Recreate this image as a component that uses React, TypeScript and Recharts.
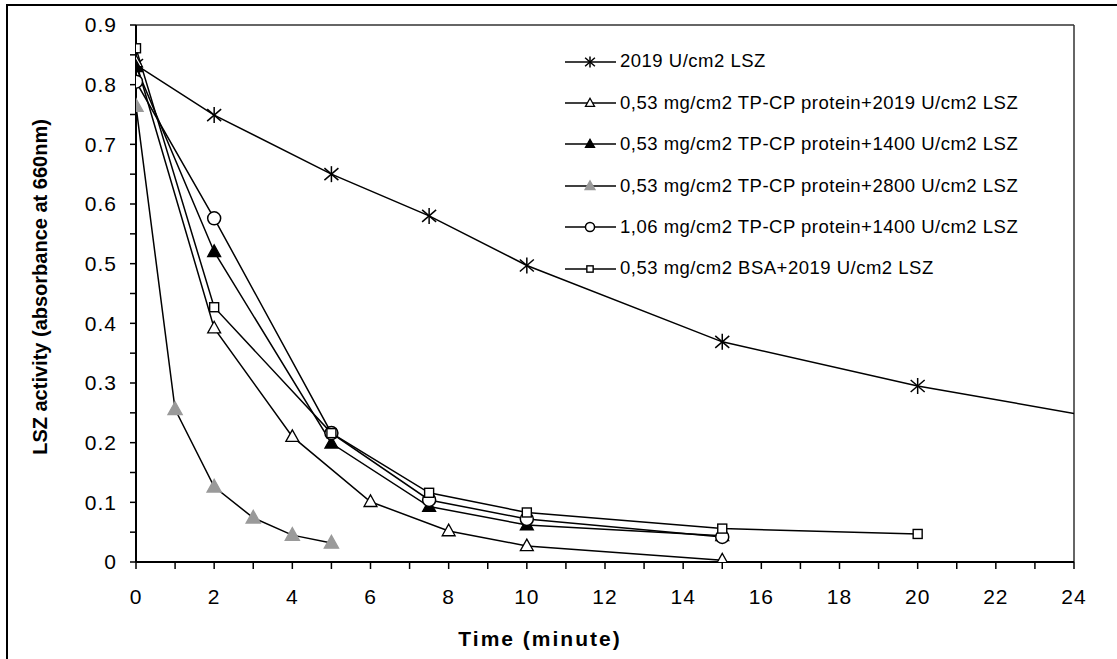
import { LineChart, Line, XAxis, YAxis, Legend, ReferenceLine, Label } from "recharts"

const FONT = "'Liberation Sans', Arial, Helvetica, sans-serif"

// time (minute) and absorbance at 660nm
const T_LSZ = [0, 2, 5, 7.5, 10, 15, 20, 30]
const V_LSZ = [0.833, 0.749, 0.65, 0.58, 0.497, 0.369, 0.295, 0.18]

const T_TP053_2019 = [0, 2, 4, 6, 8, 10, 15]
const V_TP053_2019 = [0.838, 0.392, 0.21, 0.101, 0.052, 0.027, 0.003]

const T_TP053_1400 = [0, 2, 5, 7.5, 10, 15]
const V_TP053_1400 = [0.83, 0.52, 0.199, 0.093, 0.062, 0.044]

const T_TP053_2800 = [0, 1, 2, 3, 4, 5]
const V_TP053_2800 = [0.764, 0.256, 0.126, 0.074, 0.045, 0.032]

const T_TP106_1400 = [0, 2, 5, 7.5, 10, 15]
const V_TP106_1400 = [0.805, 0.576, 0.216, 0.104, 0.072, 0.042]

const T_BSA = [0, 2, 5, 7.5, 10, 15, 20]
const V_BSA = [0.861, 0.427, 0.216, 0.116, 0.083, 0.056, 0.047]

const X_TICKS = [0, 1, 2, 3, 4, 5, 6, 7, 8, 9, 10, 11, 12, 13, 14, 15, 16, 17, 18, 19, 20, 21, 22, 23, 24]
const Y_TICKS = [0, 0.05, 0.1, 0.15, 0.2, 0.25, 0.3, 0.35, 0.4, 0.45, 0.5, 0.55, 0.6, 0.65, 0.7, 0.75, 0.8, 0.85, 0.9]

type Shape = "star" | "triOpen" | "triFill" | "triGray" | "circle" | "square"

const zip = (xs: number[], ys: number[]) => xs.map((x, i) => ({ x, y: ys[i] }))

const SERIES: { name: string; shape: Shape; data: { x: number; y: number }[] }[] = [
  { name: "2019 U/cm2 LSZ", shape: "star", data: zip(T_LSZ, V_LSZ) },
  { name: "0,53 mg/cm2 TP-CP protein+2019 U/cm2 LSZ", shape: "triOpen", data: zip(T_TP053_2019, V_TP053_2019) },
  { name: "0,53 mg/cm2 TP-CP protein+1400 U/cm2 LSZ", shape: "triFill", data: zip(T_TP053_1400, V_TP053_1400) },
  { name: "0,53 mg/cm2 TP-CP protein+2800 U/cm2 LSZ", shape: "triGray", data: zip(T_TP053_2800, V_TP053_2800) },
  { name: "1,06 mg/cm2 TP-CP protein+1400 U/cm2 LSZ", shape: "circle", data: zip(T_TP106_1400, V_TP106_1400) },
  { name: "0,53 mg/cm2 BSA+2019 U/cm2 LSZ", shape: "square", data: zip(T_BSA, V_BSA) },
]

function Marker({ shape, cx, cy, s = 1 }: { shape: Shape; cx: number; cy: number; s?: number }) {
  if (cx == null || cy == null || isNaN(cx) || isNaN(cy)) return null
  switch (shape) {
    case "star":
      return (
        <g stroke="#000" strokeWidth={1.5}>
          <line x1={cx} y1={cy - 8 * s} x2={cx} y2={cy + 8 * s} />
          <line x1={cx - 7 * s} y1={cy - 6 * s} x2={cx + 7 * s} y2={cy + 6 * s} />
          <line x1={cx - 7 * s} y1={cy + 6 * s} x2={cx + 7 * s} y2={cy - 6 * s} />
        </g>
      )
    case "triOpen":
    case "triFill":
    case "triGray": {
      const r = shape === "triGray" ? 7.5 * s : 6.8 * s
      const pts = `${cx},${cy - r} ${cx - r * 0.95},${cy + r * 0.7} ${cx + r * 0.95},${cy + r * 0.7}`
      const fill = shape === "triOpen" ? "#fff" : shape === "triFill" ? "#000" : "#9a9a9a"
      const stroke = shape === "triGray" ? "#9a9a9a" : "#000"
      return <polygon points={pts} fill={fill} stroke={stroke} strokeWidth={1.3} />
    }
    case "circle":
      return <circle cx={cx} cy={cy} r={6.5 * s} fill="#fff" stroke="#000" strokeWidth={1.5} />
    case "square":
      return (
        <rect x={cx - 4.5 * s} y={cy - 4.5 * s} width={9 * s} height={9 * s} fill="#fff" stroke="#000" strokeWidth={1.4} />
      )
  }
  return null
}

const dotFor = (shape: Shape) => (props: any) => (
  <g key={`${shape}-${props.index}`}>
    <Marker shape={shape} cx={props.cx} cy={props.cy} />
  </g>
)

const fmtY = (v: number) => {
  const t = Math.round(v * 100)
  if (t % 10 !== 0) return ""
  return t === 0 ? "0" : (t / 100).toFixed(1)
}

const fmtX = (v: number) => (v % 2 === 0 ? String(v) : "")

function LegendBox() {
  return (
    <div style={{ fontFamily: FONT, fontSize: 18.5, letterSpacing: 0.5, color: "#000", lineHeight: 1 }}>
      {SERIES.map((s) => (
        <div key={s.name} style={{ display: "flex", alignItems: "center", height: 41.4, whiteSpace: "nowrap" }}>
          <svg width={55} height={20} style={{ flex: "none" }}>
            <line x1={0} y1={10} x2={51} y2={10} stroke="#000" strokeWidth={1.5} />
            <Marker shape={s.shape} cx={25} cy={10} s={0.7} />
          </svg>
          <span>{s.name}</span>
        </div>
      ))}
    </div>
  )
}

export default function App() {
  const tickStyle = { fontSize: 21, fill: "#000", fontFamily: FONT, letterSpacing: 1 }
  return (
    <div style={{ position: "absolute", left: 0, top: 0, width: 1117, height: 659, overflow: "hidden", background: "#fff" }}>
      <div
        style={{
          position: "absolute",
          left: 6,
          top: 4,
          width: 1200,
          height: 700,
          borderTop: "2px solid #000",
          borderLeft: "2px solid #000",
        }}
      />
      <LineChart width={1117} height={659} margin={{ top: 25, right: 43, bottom: 0, left: 0 }}>
        <XAxis
          type="number"
          dataKey="x"
          domain={[0, 24]}
          ticks={X_TICKS}
          interval={0}
          tickFormatter={fmtX}
          allowDataOverflow
          height={97}
          tickSize={7}
          tickMargin={20}
          axisLine={{ stroke: "#000", strokeWidth: 2 }}
          tickLine={{ stroke: "#000", strokeWidth: 1.5 }}
          tick={tickStyle}
        >
          <Label
            content={() => (
              <text x={540} y={646} textAnchor="middle" fontFamily={FONT} fontWeight="bold" fontSize={21} letterSpacing={2} fill="#000">
                Time (minute)
              </text>
            )}
          />
        </XAxis>
        <YAxis
          type="number"
          domain={[0, 0.9]}
          ticks={Y_TICKS}
          interval={0}
          tickFormatter={fmtY}
          allowDataOverflow
          width={136}
          tickSize={6}
          tickMargin={13}
          axisLine={{ stroke: "#000", strokeWidth: 2 }}
          tickLine={{ stroke: "#000", strokeWidth: 1.5 }}
          tick={tickStyle}
        >
          <Label
            content={() => (
              <text
                x={40}
                y={287}
                transform="rotate(-90 40 287)"
                textAnchor="middle"
                dominantBaseline="central"
                fontFamily={FONT}
                fontWeight="bold"
                fontSize={20}
                fill="#000"
              >
                LSZ activity (absorbance at 660nm)
              </text>
            )}
          />
        </YAxis>
        <ReferenceLine y={0.9} stroke="#333" strokeWidth={1.5} />
        <ReferenceLine x={24} stroke="#333" strokeWidth={1.5} />
        {SERIES.map((s) => (
          <Line
            key={s.name}
            name={s.name}
            data={s.data}
            dataKey="y"
            type="linear"
            stroke="#000"
            strokeWidth={1.5}
            dot={dotFor(s.shape)}
            activeDot={false}
            isAnimationActive={false}
          />
        ))}
        <Legend
          layout="vertical"
          align="center"
          verticalAlign="middle"
          wrapperStyle={{ left: 565, top: 41, width: 490 }}
          content={() => <LegendBox />}
        />
      </LineChart>
    </div>
  )
}
